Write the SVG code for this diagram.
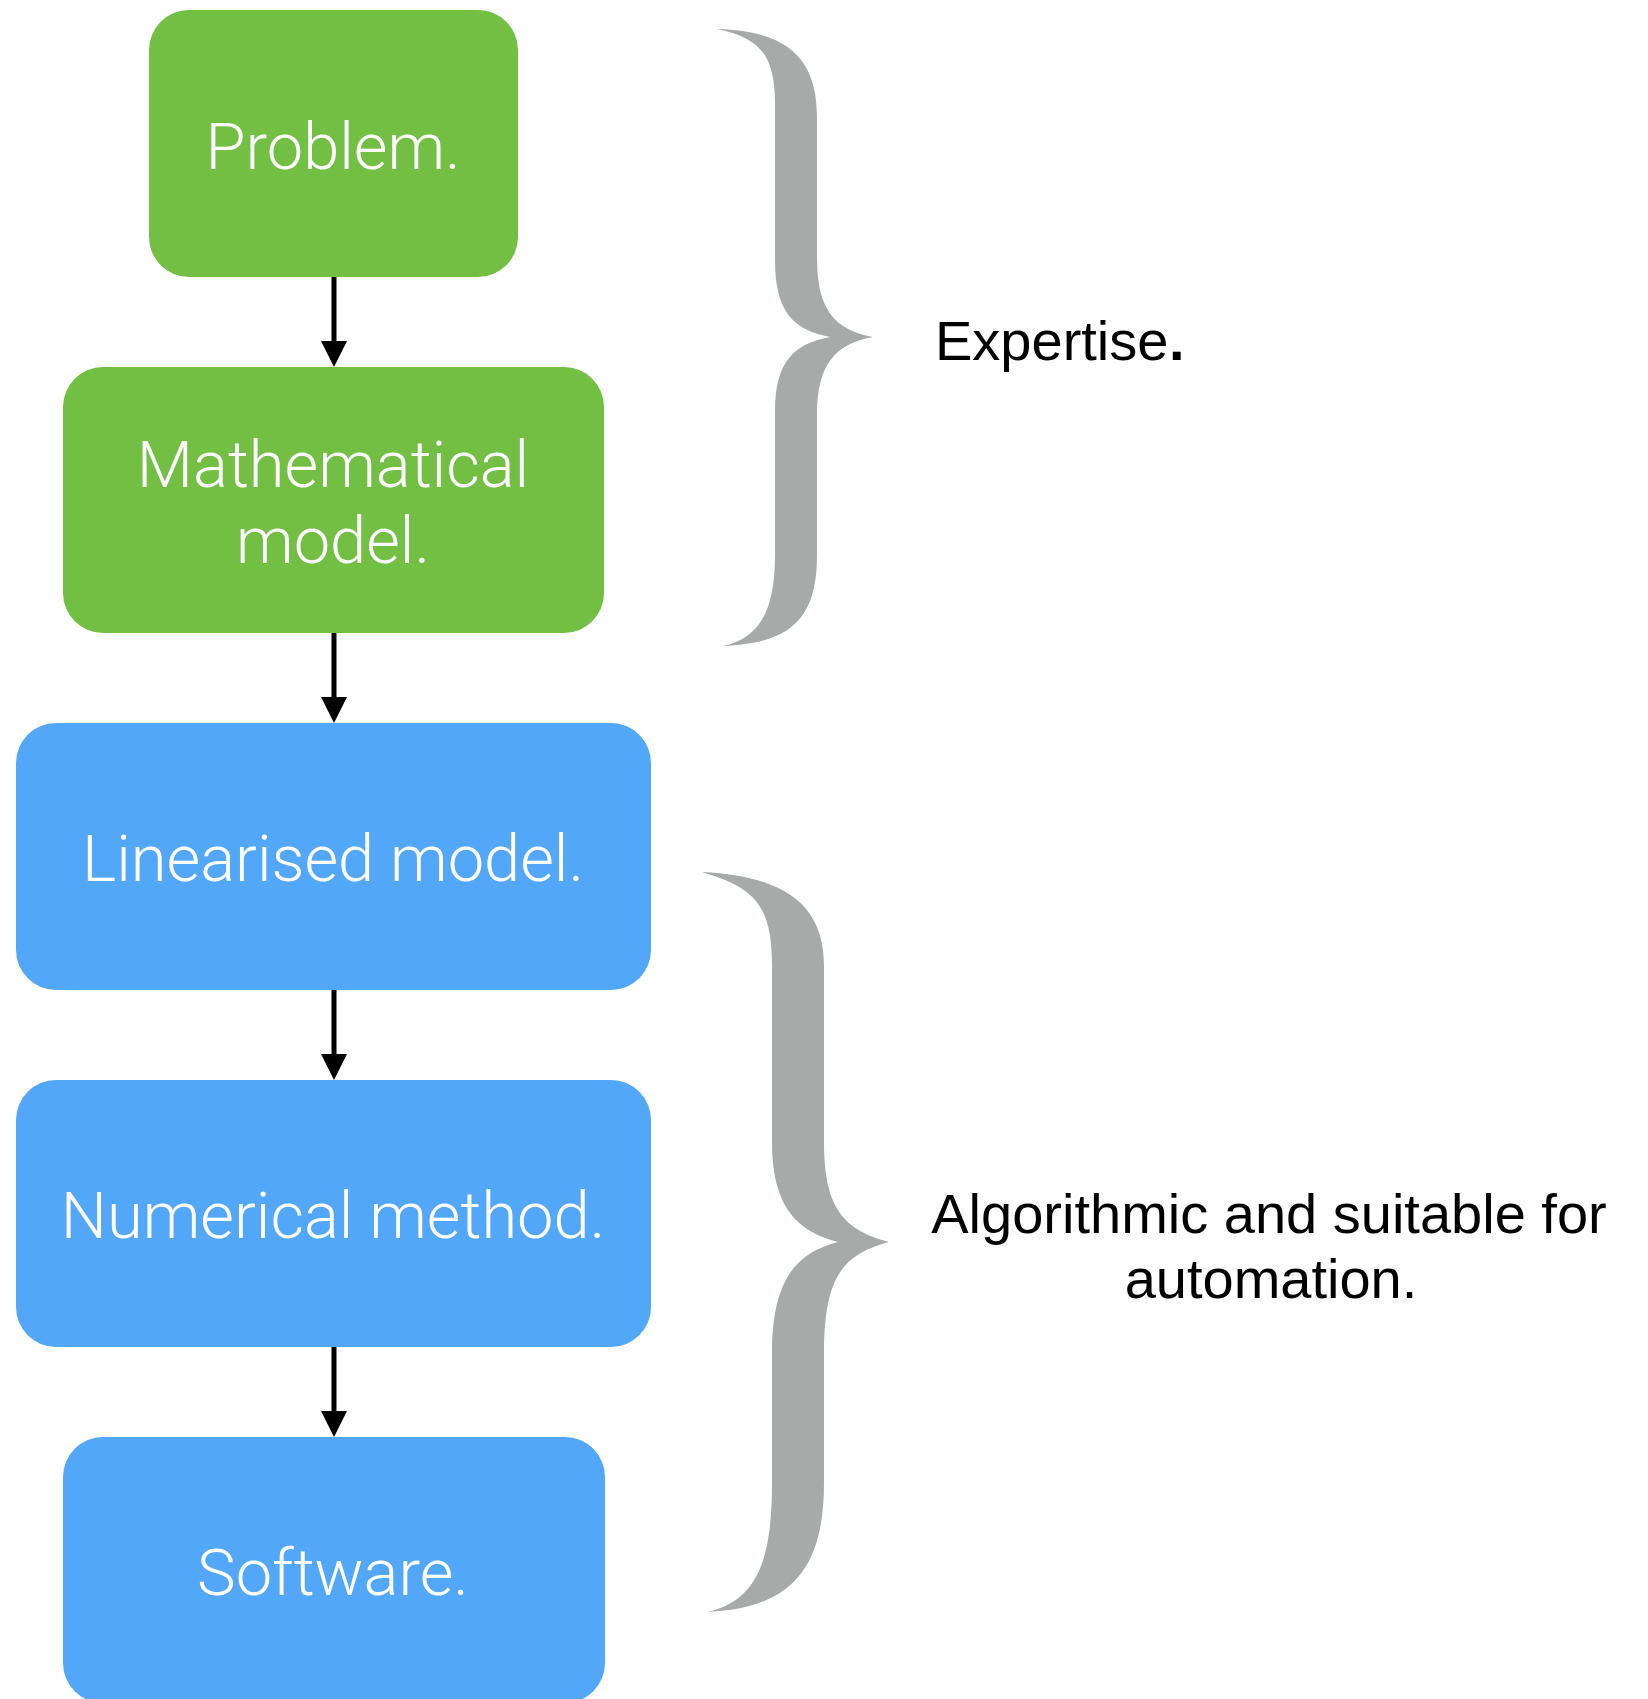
<svg xmlns="http://www.w3.org/2000/svg" width="1648" height="1699" viewBox="0 0 1648 1699">
  <defs>
    <style>
      .green { fill: #72BF44; }
      .blue { fill: #52A7F9; }
      .box-label { font-family: "Helvetica Neue", Roboto, "Liberation Sans", sans-serif; font-weight: 300; font-size: 65px; fill: #FFFFFF; text-anchor: middle; }
      .side-label { font-family: "Helvetica Neue", "Liberation Sans", Arial, sans-serif; font-size: 56px; fill: #000000; }
      .brace { fill: #A6AAA9; }
      .edge { stroke: #000000; stroke-width: 5; fill: none; }
    </style>
    <marker id="arrowhead" markerUnits="userSpaceOnUse" markerWidth="26" markerHeight="26" refX="16" refY="13" orient="auto">
      <path d="M0,0 L26,13 L0,26 Z" fill="#000000"/>
    </marker>
  </defs>

  <rect width="1648" height="1699" fill="#FFFFFF"/>

  <!-- process steps -->
  <g id="node-problem">
    <rect class="green" x="149" y="10" width="369" height="267" rx="40" ry="40"/>
    <text class="box-label" x="333" y="169">Problem.</text>
  </g>
  <g id="node-mathematical-model">
    <rect class="green" x="63" y="367" width="541" height="266" rx="40" ry="40"/>
    <text class="box-label" x="333" y="487">Mathematical</text>
    <text class="box-label" x="333" y="563">model.</text>
  </g>
  <g id="node-linearised-model">
    <rect class="blue" x="16" y="723" width="635" height="267" rx="40" ry="40"/>
    <text class="box-label" x="333" y="881">Linearised model.</text>
  </g>
  <g id="node-numerical-method">
    <rect class="blue" x="16" y="1080" width="635" height="267" rx="40" ry="40"/>
    <text class="box-label" x="333" y="1238">Numerical method.</text>
  </g>
  <g id="node-software">
    <rect class="blue" x="63" y="1437" width="542" height="266" rx="40" ry="40"/>
    <text class="box-label" x="333" y="1595">Software.</text>
  </g>

  <!-- arrows between steps -->
  <g id="connectors">
    <line class="edge" x1="334" y1="277" x2="334" y2="357" marker-end="url(#arrowhead)"/>
    <line class="edge" x1="334" y1="633" x2="334" y2="713" marker-end="url(#arrowhead)"/>
    <line class="edge" x1="334" y1="990" x2="334" y2="1070" marker-end="url(#arrowhead)"/>
    <line class="edge" x1="334" y1="1347" x2="334" y2="1427" marker-end="url(#arrowhead)"/>
  </g>

  <!-- upper brace: problem + model -->
  <g id="brace-expertise">
    <path class="brace" d="M717,29 C790,31 817,60 817,118 L817,258 C817,310 835,330 873,337 C835,344 817,364 817,416 L817,555 C817,620 790,643 723,646 C760,638 775,610 775,555 L775,412 C775,360 795,344 830,337 C795,330 775,314 775,260 L775,104 C775,55 760,38 717,29 Z"/>
    <text class="side-label" x="935" y="360">Expertise</text>
    <text class="side-label" x="1169" y="360" font-weight="bold" font-size="68">.</text>
  </g>

  <!-- lower brace: linearised model to software -->
  <g id="brace-automation">
    <path class="brace" d="M702,872 C785,876 824,905 824,966 L824,1142 C824,1210 845,1230 889,1242 C845,1254 824,1274 824,1353 L824,1483 C824,1570 790,1608 708,1612 C755,1600 772,1565 772,1483 L772,1353 C772,1275 800,1252 838,1242 C800,1232 772,1210 772,1142 L772,966 C772,905 755,888 702,872 Z"/>
    <text class="side-label" x="1269" y="1233" text-anchor="middle">Algorithmic and suitable for</text>
    <text class="side-label" x="1271" y="1298" text-anchor="middle">automation.</text>
  </g>
</svg>
